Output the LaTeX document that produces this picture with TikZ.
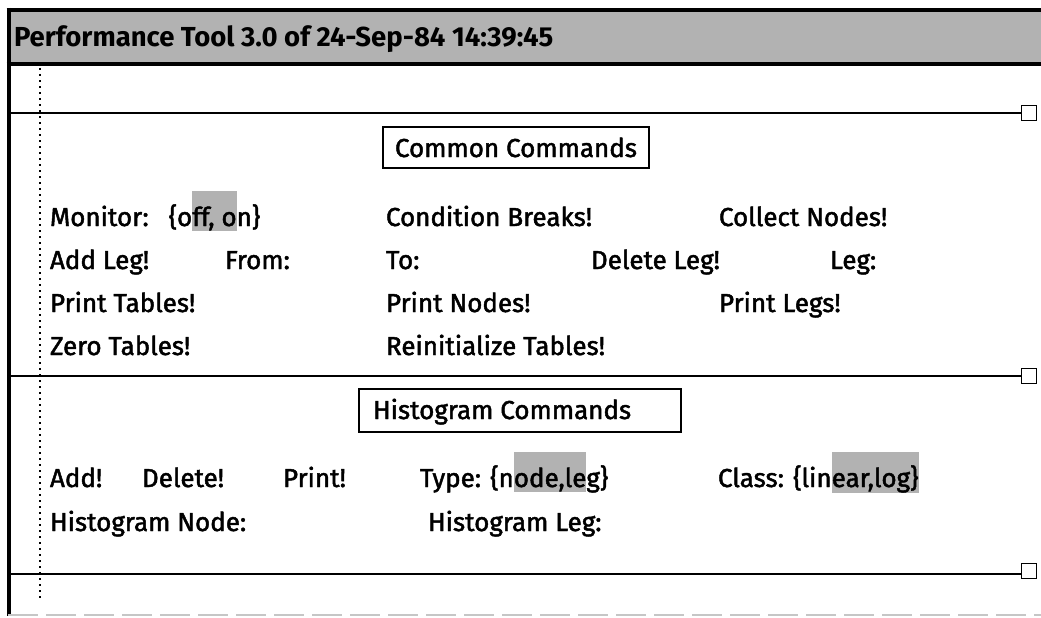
\documentclass[tikz,border=0pt]{standalone}
\usepackage{fontspec}
\setmainfont{Fira Sans}[FakeBold=1.8]
\newfontfamily\titlefont{Fira Sans}
\definecolor{stip}{gray}{0.70}
\newcommand\hlt[1]{{\setlength\fboxsep{0pt}\colorbox{stip}{\rule[-5pt]{0pt}{40pt}#1}}}
\begin{document}
\begin{tikzpicture}[x=1pt,y=-1pt,
  every node/.style={inner sep=0pt,outer sep=0pt},
  lbl/.style={anchor=base west,font=\fontsize{26}{31}\selectfont},
  ttl/.style={anchor=base west,font=\titlefont\bfseries\fontsize{27.5}{32}\selectfont},
  cmdbox/.style={draw,line width=1.3pt,anchor=north west,inner sep=0pt},
  cmdtext/.style={anchor=base west,font=\fontsize{26}{31}\selectfont},
  sq/.style={draw,line width=1.3pt,minimum width=15pt,minimum height=15pt,inner sep=0pt},
  sepline/.style={line width=2pt},
  border/.style={line width=4pt}]
\useasboundingbox (0,0) rectangle (1041,618);
% title bar
\fill[stip] (8,8) rectangle (1041,65);
\coordinate (tl) at (6.5,10);
\coordinate (tr) at (1041,10);
\coordinate (bl) at (6.5,64);
\coordinate (br) at (1041,64);
\draw[border] (tl) -- (tr);
\draw[line width=3.5pt] (bl) -- (br);
\node[ttl] (title) at (14,47) {Performance Tool 3.0 of 24-Sep-84 14:39:45};
% left border
\coordinate (lb0) at (8.5,8);
\coordinate (lb1) at (8.5,616);
\draw[border] (lb0) -- (lb1);
% bottom faint edge
\coordinate (fb0) at (8,615);
\coordinate (fb1) at (1041,615);
\draw[gray!45,line width=1.5pt,dash pattern=on 30pt off 8pt] (fb0) -- (fb1);
% dotted guide
\coordinate (d0) at (40,68);
\coordinate (d1) at (40,598);
\draw[line width=1.6pt,dash pattern=on 1.6pt off 4.4pt] (d0) -- (d1);
% separators
\coordinate (L1) at (8,113);
\coordinate (L2) at (8,376);
\coordinate (L3) at (8,574);
\node[sq] (S1) at (1029,113) {};
\node[sq] (S2) at (1029,376) {};
\node[sq] (S3) at (1029,571) {};
\draw[sepline] (L1) -- (S1.west);
\draw[sepline] (L2) -- (S2.west);
\draw[sepline] (L3) -- (L3 -| S3.west);
% common commands
\node[cmdbox,minimum width=266pt,minimum height=41pt] (cc) at (383,127) {};
\node[cmdtext] (cct) at (395,157) {Common Commands};
\node[lbl] (mon) at (50,226) {Monitor:\hspace{20pt}\{o\hlt{ff, o}n\}};
\node[lbl] (cb) at (386,226) {Condition Breaks!};
\node[lbl] (cn) at (719,226) {Collect Nodes!};
\node[lbl] (al) at (50,269) {Add Leg!};
\node[lbl] (fr) at (225,269) {From:};
\node[lbl] (to) at (386,269) {To:};
\node[lbl] (dl) at (591,269) {Delete Leg!};
\node[lbl] (lg) at (830,269) {Leg:};
\node[lbl] (pt) at (50,312) {Print Tables!};
\node[lbl] (pn) at (386,312) {Print Nodes!};
\node[lbl] (pl) at (719,312) {Print Legs!};
\node[lbl] (zt) at (50,355) {Zero Tables!};
\node[lbl] (rt) at (386,355) {Reinitialize Tables!};
% histogram commands
\node[cmdbox,minimum width=322pt,minimum height=43pt] (hc) at (359,389) {};
\node[cmdtext] (hct) at (373,419) {Histogram Commands};
\node[lbl] (ad) at (50,487) {Add!};
\node[lbl] (de) at (142,487) {Delete!};
\node[lbl] (pr) at (283,487) {Print!};
\node[lbl] (ty) at (420,487) {Type: \{n\hlt{ode,le}g\}};
\node[lbl] (cl) at (718,487) {Class: \{lin\hlt{ear,log\}}};
\node[lbl] (hn) at (50,531) {Histogram Node:};
\node[lbl] (hl) at (428,531) {Histogram Leg:};
\end{tikzpicture}
\end{document}
